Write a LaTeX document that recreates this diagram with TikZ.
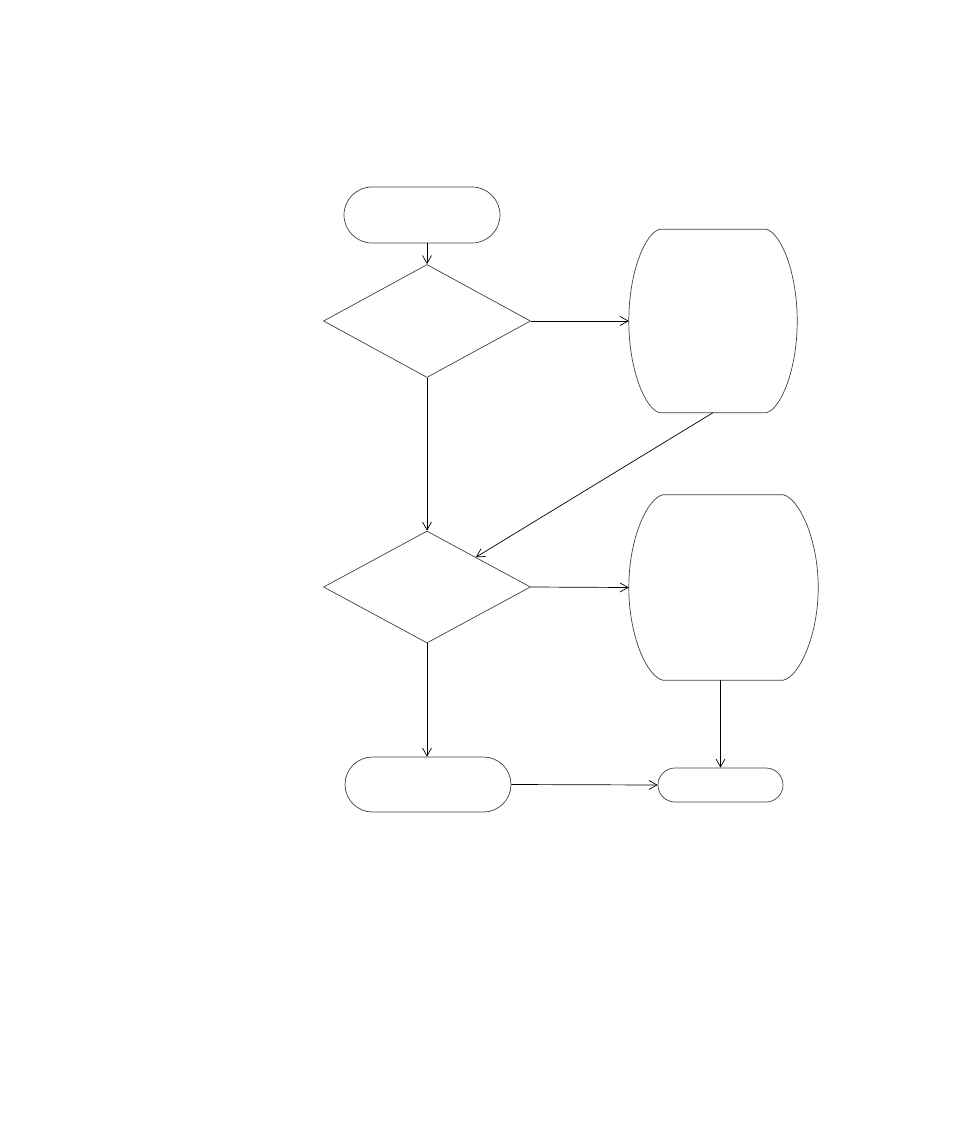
\documentclass[tikz,border=0pt]{standalone}
\usetikzlibrary{shapes.geometric,shapes.misc,arrows.meta}
\begin{document}
\begin{tikzpicture}[x=1pt,y=-1pt,
  base/.style={draw=black!75,line width=0.7pt,inner sep=0pt},
  term/.style={base,rounded rectangle},
  tallbox/.style={inner sep=0pt,rectangle},
  outline/.style={draw=black!75,line width=0.7pt},
  decision/.style={base,diamond,aspect=1.84},
  conn/.style={-{Straight Barb[length=8pt,width=9pt]},line width=0.7pt,draw=black}]
\useasboundingbox (0,0) rectangle (954,1145);
\node[term,minimum width=156pt,minimum height=56pt] (start) at (422,215) {};
\node[decision,minimum width=207pt,minimum height=113pt] (d1) at (427,321) {};
\node[tallbox,minimum width=168pt,minimum height=183pt] (b1) at (713,321) {};
\node[decision,minimum width=207pt,minimum height=112pt] (d2) at (427,587) {};
\node[tallbox,minimum width=189pt,minimum height=185pt] (b2) at (723.5,587.5) {};
\node[term,minimum width=166pt,minimum height=55pt] (b3) at (428,784.5) {};
\node[term,minimum width=125pt,minimum height=34pt] (fin) at (720.5,785) {};
% outlines of the tall boxes (straight top/bottom, bulging sides)
\draw[outline] ([xshift=31pt]b1.north west) -- ([xshift=-31pt]b1.north east)
  .. controls +(14,3) and +(0,-50) .. (b1.east)
  .. controls +(0,50) and +(14,-3) .. ([xshift=-31pt]b1.south east)
  -- ([xshift=31pt]b1.south west)
  .. controls +(-14,-3) and +(0,50) .. (b1.west)
  .. controls +(0,-50) and +(-14,3) .. cycle;
\draw[outline] ([xshift=34pt]b2.north west) -- ([xshift=-35pt]b2.north east)
  .. controls +(15,3) and +(0,-50) .. (b2.east)
  .. controls +(0,50) and +(15,-3) .. ([xshift=-35pt]b2.south east)
  -- ([xshift=34pt]b2.south west)
  .. controls +(-15,-3) and +(0,50) .. (b2.west)
  .. controls +(0,-50) and +(-15,3) .. cycle;
\draw[conn] (start.south -| d1.north) -- (d1.north);
\draw[conn] (d1.east) -- (b1.west);
\draw[conn] (d1.south) -- (d2.north);
\draw[conn] (b1.south) -- (d2);
\draw[conn] (d2.east) -- (b2.west);
\draw[conn] (d2.south) -- (b3.north -| d2.south);
\draw[conn] (b3.east) -- (fin.west);
\draw[conn] (b2.south -| fin.north) -- (fin.north);
\end{tikzpicture}
\end{document}
